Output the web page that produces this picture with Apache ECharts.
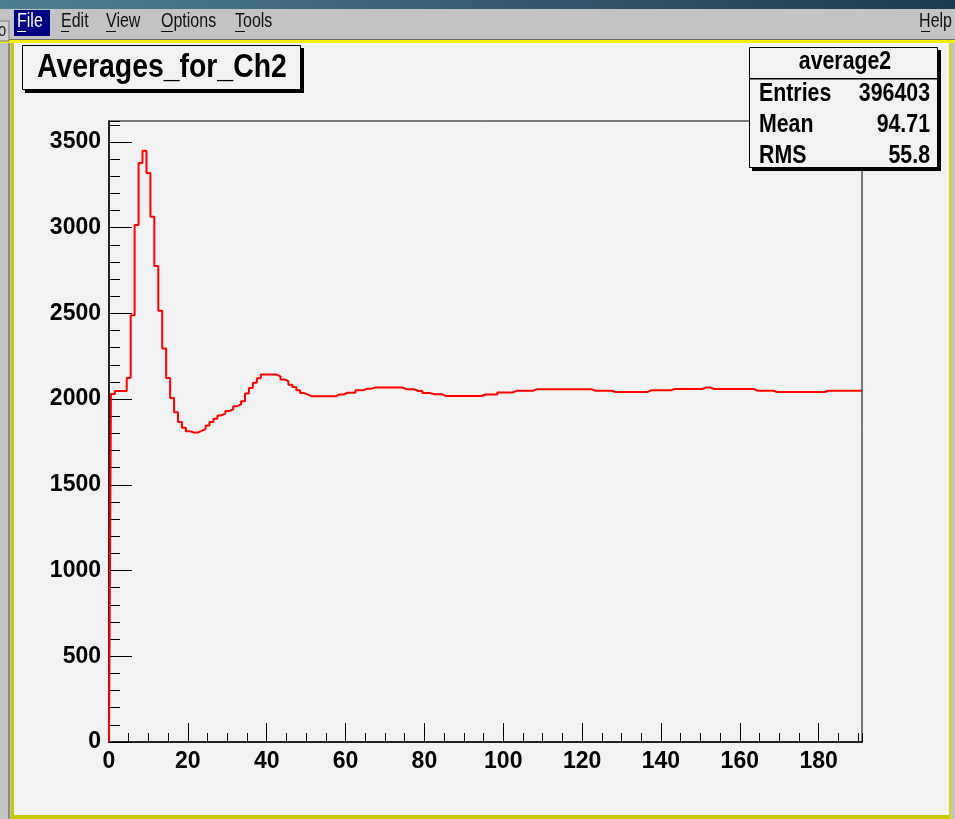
<!DOCTYPE html>
<html>
<head>
<meta charset="utf-8">
<script src="https://cdn.jsdelivr.net/npm/echarts@6/dist/echarts.min.js"></script>
<style>
html,body{margin:0;padding:0;background:#f2f2f2;}
#chart{width:955px;height:819px;}
</style>
</head>
<body>
<div id="chart"></div>
<script>
// ---- data (bin contents of histogram "average2", bins of width 1 centred on 0..191) ----
const histTitle = "Averages_for_Ch2";
const statsName = "average2";
const statsLabels = ["Entries", "Mean", "RMS"];
const statsValues = ["396403", "94.71", "55.8"];
const xTickLabels = [0, 20, 40, 60, 80, 100, 120, 140, 160, 180];
const yTickLabels = [0, 500, 1000, 1500, 2000, 2500, 3000, 3500];
const binValues = [
  0, 2030, 2047, 2047, 2047, 2123, 2489, 3016, 3377, 3449,
  3318, 3064, 2776, 2515, 2295, 2123, 2006, 1924, 1866, 1833,
  1813, 1805, 1805, 1815, 1825, 1846, 1866, 1885, 1905, 1915,
  1930, 1940, 1959, 1969, 1988, 2032, 2064, 2096, 2121, 2143,
  2143, 2143, 2143, 2133, 2115, 2104, 2084, 2070, 2051, 2035,
  2026, 2016, 2016, 2016, 2016, 2016, 2016, 2016, 2027, 2027,
  2037, 2037, 2037, 2051, 2051, 2061, 2061, 2067, 2067, 2067,
  2067, 2067, 2067, 2067, 2067, 2057, 2057, 2057, 2047, 2047,
  2035, 2035, 2028, 2028, 2028, 2018, 2018, 2018, 2018, 2018,
  2018, 2018, 2018, 2018, 2018, 2027, 2027, 2027, 2027, 2039,
  2039, 2039, 2039, 2049, 2049, 2049, 2049, 2049, 2057, 2057,
  2057, 2057, 2057, 2057, 2057, 2057, 2057, 2057, 2057, 2057,
  2057, 2057, 2057, 2049, 2049, 2049, 2049, 2049, 2041, 2041,
  2041, 2041, 2041, 2041, 2041, 2041, 2041, 2051, 2051, 2051,
  2051, 2051, 2051, 2059, 2059, 2059, 2059, 2059, 2059, 2059,
  2059, 2068, 2068, 2059, 2059, 2059, 2059, 2059, 2059, 2059,
  2059, 2059, 2059, 2059, 2049, 2049, 2049, 2049, 2049, 2041,
  2041, 2041, 2041, 2041, 2041, 2041, 2041, 2041, 2041, 2041,
  2041, 2041, 2049, 2049, 2049, 2049, 2049, 2049, 2049, 2049,
  2049, 2049
];
const xMax = 191;
const yMax = 3622;
const menuItems = ["File", "Edit", "View", "Options", "Tools"];

// ---- chart ----
const FN = "'Liberation Sans', Arial, Helvetica, sans-serif";
const BG = '#f2f2f2';
const NARROW = 0.82;
const chart = echarts.init(document.getElementById('chart'), null, {renderer: 'canvas'});

const seriesData = binValues.map((v, i) => [i, v]);
const gridBox = {left: 109, top: 121, right: 93, bottom: 77};

function labelFmt(list) {
  return function (v) { return list.indexOf(v) >= 0 ? String(v) : ''; };
}
function txt(x, y, text, font, fill, align, z, sx) {
  return {type: 'text', z: z, x: x, y: y, scaleX: sx, scaleY: 1,
    style: {text: text, font: font, fill: fill, textAlign: align, align: align,
      textVerticalAlign: 'middle', verticalAlign: 'middle'}};
}

const g = [];
// window decoration
g.push({type: 'rect', z: -5, shape: {x: 0, y: 0, width: 955, height: 9},
  style: {fill: new echarts.graphic.LinearGradient(0, 0, 1, 0, [{offset: 0, color: '#4f8090'}, {offset: 1, color: '#1c3c4c'}])}});
g.push({type: 'rect', z: -5, shape: {x: 0, y: 9, width: 955, height: 31}, style: {fill: '#c3c3c3'}});
g.push({type: 'rect', z: -5, shape: {x: 0, y: 39, width: 955, height: 1}, style: {fill: '#6a6a6a'}});
g.push({type: 'rect', z: -5, shape: {x: 0, y: 40, width: 955, height: 3}, style: {fill: '#f0f000'}});
g.push({type: 'rect', z: -5, shape: {x: 0, y: 43, width: 11, height: 776}, style: {fill: '#c3c3c3'}});
g.push({type: 'rect', z: -5, shape: {x: 8, y: 43, width: 2, height: 776}, style: {fill: '#8a8a8a'}});
g.push({type: 'rect', z: -5, shape: {x: 11, y: 43, width: 3, height: 776}, style: {fill: '#c8c800'}});
g.push({type: 'rect', z: -5, shape: {x: 11, y: 815, width: 944, height: 4}, style: {fill: '#c8c800'}});
g.push({type: 'rect', z: -5, shape: {x: 949, y: 43, width: 2, height: 776}, style: {fill: '#d8d800'}});
g.push({type: 'rect', z: -5, shape: {x: 951, y: 43, width: 4, height: 776}, style: {fill: '#c3c3c3'}});
// left cut button
g.push({type: 'rect', z: -4, shape: {x: -2, y: 21, width: 11, height: 20}, style: {fill: '#d0d0d0', stroke: '#7a7a7a', lineWidth: 1}});
g.push(txt(-2, 31, 'o', '18px ' + FN, '#222', 'left', -3, NARROW));
// menu
const menuX = [17, 61, 106, 161, 235];
g.push({type: 'rect', z: -4, shape: {x: 14, y: 10, width: 36, height: 26}, style: {fill: '#000080'}});
menuItems.forEach((m, i) => {
  g.push(txt(menuX[i], 21, m, '20px ' + FN, i === 0 ? '#ffffff' : '#111111', 'left', -3, 0.8));
});
g.push(txt(952, 21, 'Help', '20px ' + FN, '#111', 'right', -3, 0.8));
// mnemonic underlines
[[17, 9, '#fff'], [61, 8, '#111'], [106, 10, '#111'], [161, 12, '#111'], [235, 10, '#111'], [921, 9, '#111']].forEach(u => {
  g.push({type: 'rect', z: -3, shape: {x: u[0], y: 31, width: u[1], height: 1}, style: {fill: u[2]}});
});

// title box
g.push({type: 'rect', z: 20, shape: {x: 25, y: 48, width: 279, height: 45}, style: {fill: '#000'}});
g.push({type: 'rect', z: 21, shape: {x: 22.5, y: 45.5, width: 278, height: 44}, style: {fill: BG, stroke: '#000', lineWidth: 1}});
g.push(txt(37, 68, histTitle, 'bold 33px ' + FN, '#000', 'left', 22, 0.86));

// stats box
g.push({type: 'rect', z: 20, shape: {x: 752, y: 50, width: 189, height: 121}, style: {fill: '#000'}});
g.push({type: 'rect', z: 21, shape: {x: 749.5, y: 47.5, width: 188, height: 120}, style: {fill: BG, stroke: '#000', lineWidth: 1}});
g.push({type: 'rect', z: 22, shape: {x: 750, y: 78, width: 188, height: 1.5}, style: {fill: '#000'}});
g.push(txt(845, 62, statsName, 'bold 26px ' + FN, '#000', 'center', 22, NARROW));
const rowY = [94, 125, 156];
statsLabels.forEach((l, i) => {
  g.push(txt(759, rowY[i], l, 'bold 26px ' + FN, '#000', 'left', 22, NARROW));
  g.push(txt(930, rowY[i], statsValues[i], 'bold 26px ' + FN, '#000', 'right', 22, NARROW));
});

const labelStyle = {color: '#000', fontFamily: FN, fontWeight: 'bold', fontSize: 23};

const option = {
  animation: false,
  backgroundColor: BG,
  grid: [
    Object.assign({show: true, borderColor: '#000', borderWidth: 1, backgroundColor: 'transparent'}, gridBox),
    Object.assign({show: false}, gridBox)
  ],
  xAxis: [
    {type: 'value', gridIndex: 0, min: 0, max: xMax, interval: 20, position: 'bottom',
      axisLine: {show: true, lineStyle: {color: '#222', width: 2}},
      axisTick: {show: true, inside: true, length: 19, lineStyle: {color: '#000', width: 1}},
      axisLabel: Object.assign({show: true, margin: 8, formatter: labelFmt(xTickLabels), showMaxLabel: false}, labelStyle),
      splitLine: {show: false}},
    {type: 'value', gridIndex: 1, min: 0, max: xMax, interval: 5, position: 'bottom',
      axisLine: {show: false},
      axisTick: {show: true, inside: true, length: 9, lineStyle: {color: '#000', width: 1}},
      axisLabel: {show: false}, splitLine: {show: false}}
  ],
  yAxis: [
    {type: 'value', gridIndex: 0, min: 0, max: yMax, interval: 500, position: 'left',
      axisLine: {show: true, lineStyle: {color: '#222', width: 2}},
      axisTick: {show: true, inside: true, length: 23, lineStyle: {color: '#000', width: 1}},
      axisLabel: Object.assign({show: true, margin: 8, formatter: labelFmt(yTickLabels), showMaxLabel: false}, labelStyle),
      splitLine: {show: false}},
    {type: 'value', gridIndex: 1, min: 0, max: yMax, interval: 100, position: 'left',
      axisLine: {show: false},
      axisTick: {show: true, inside: true, length: 11, lineStyle: {color: '#000', width: 1}},
      axisLabel: {show: false}, splitLine: {show: false}}
  ],
  series: [{
    type: 'line', xAxisIndex: 0, yAxisIndex: 0, step: 'middle', data: seriesData,
    symbol: 'none', clip: true, z: 5,
    lineStyle: {color: '#ff0000', width: 2}
  }],
  graphic: {elements: g}
};
chart.setOption(option);
</script>
</body>
</html>
